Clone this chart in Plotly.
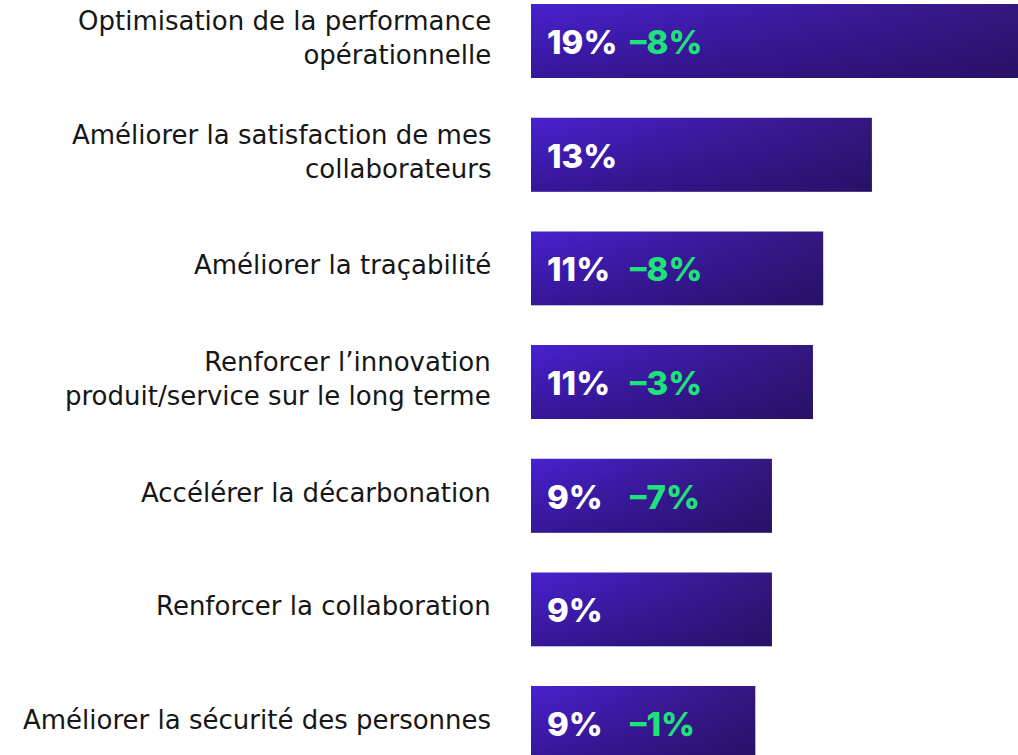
import plotly.graph_objects as go

categories = [
    "Optimisation de la performance<br>opérationnelle",
    "Améliorer la satisfaction de mes<br>collaborateurs",
    "Améliorer la traçabilité",
    "Renforcer l’innovation<br>produit/service sur le long terme",
    "Accélérer la décarbonation",
    "Renforcer la collaboration",
    "Améliorer la sécurité des personnes",
]
bar_values = [19.0, 13.3, 11.4, 11.0, 9.4, 9.4, 8.75]
value_labels = ["19%", "13%", "11%", "11%", "9%", "9%", "9%"]
delta_labels = ["–8%", "", "–8%", "–3%", "–7%", "", "–1%"]

HALF = 0.325
fig = go.Figure()
for i, v in enumerate(bar_values):
    xs = [0, v, v, 0, 0]
    ys = [i - HALF, i - HALF, i + HALF, i + HALF, i - HALF]
    fig.add_trace(go.Scatter(
        x=xs, y=ys, mode="lines", fill="toself",
        line=dict(width=0, color="rgba(0,0,0,0)"),
        fillgradient=dict(type="horizontal",
                          colorscale=[[0, "#4821cf"], [1, "#34177f"]]),
        hoverinfo="skip", showlegend=False,
    ))
    fig.add_trace(go.Scatter(
        x=xs, y=ys, mode="lines", fill="toself",
        line=dict(width=0, color="rgba(0,0,0,0)"),
        fillgradient=dict(type="vertical",
                          colorscale=[[0, "rgba(22,6,62,0.38)"], [1, "rgba(22,6,62,0)"]]),
        hoverinfo="skip", showlegend=False,
    ))

annotations = []
for i, (cat, val, dl) in enumerate(zip(categories, value_labels, delta_labels)):
    annotations.append(dict(
        x=0, xref="paper", y=i, yref="y", text=cat, showarrow=False,
        xanchor="right", yanchor="middle", align="right", xshift=-38, yshift=3,
        font=dict(family="DejaVu Sans", size=26, color="#161616"),
    ))
    annotations.append(dict(
        x=0, xref="x", y=i, yref="y", text=val, showarrow=False,
        xanchor="left", yanchor="middle", xshift=14, yshift=-1,
        font=dict(family="Inter", size=33, color="#ffffff", weight=800),
    ))
    if dl:
        annotations.append(dict(
            x=0, xref="x", y=i, yref="y", text=dl, showarrow=False,
            xanchor="left", yanchor="middle", xshift=97, yshift=-1,
            font=dict(family="Inter", size=33, color="#1ee37a", weight=800),
        ))

fig.update_layout(
    width=1018, height=755,
    margin=dict(l=531, r=0, t=0, b=0),
    paper_bgcolor="#ffffff", plot_bgcolor="#ffffff",
    xaxis=dict(range=[0, 19], visible=False, fixedrange=True),
    yaxis=dict(range=[6.281, -0.361], visible=False, fixedrange=True),
    annotations=annotations,
    showlegend=False,
)
fig.write_html(
    "out.html",
    config={"displayModeBar": False},
    post_script="document.body.style.margin='0';document.body.style.overflow='hidden';",
)
